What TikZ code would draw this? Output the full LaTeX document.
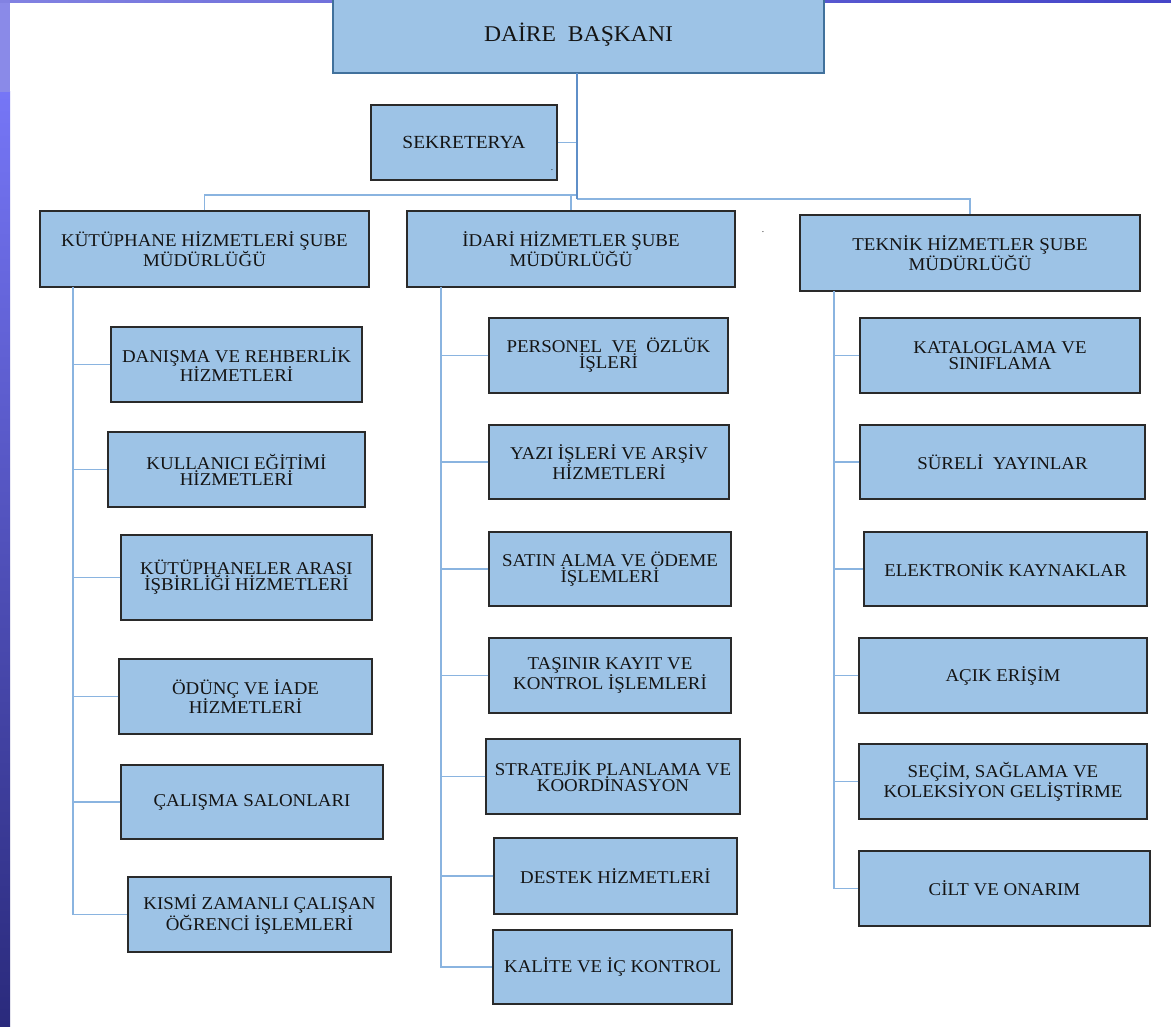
\documentclass[tikz,border=0pt]{standalone}
\usepackage{fontspec}
\setmainfont{Liberation Serif}[FakeStretch=1.05]
\usetikzlibrary{calc}
\definecolor{boxfill}{HTML}{9DC3E6}
\definecolor{boxline}{HTML}{2A2A2A}
\definecolor{topline}{HTML}{41719C}
\definecolor{conn}{HTML}{8AB4E0}
\definecolor{trunkc}{HTML}{5F8FC8}
\definecolor{txt}{HTML}{141414}
\definecolor{stripA}{HTML}{8A8AE8}
\definecolor{stripB}{HTML}{7676F6}
\definecolor{stripC}{HTML}{2A2A7C}
\definecolor{topA}{HTML}{8282E2}
\definecolor{topB}{HTML}{4545C8}
\tikzset{
  orgbox/.style={draw=boxline, line width=1.5pt, fill=boxfill, inner sep=0pt,
    align=center, text=txt, font={\fontsize{18}{16}\selectfont}},
  headbox/.style={orgbox, draw=topline, font={\fontsize{22.5}{18}\selectfont}},
  link/.style={draw=conn, line width=1.7pt},
  trunk/.style={draw=trunkc, line width=2pt},
  dotlabel/.style={inner sep=0pt, text=txt, font=\small}
}
\newcommand{\obox}[6]{% name, cx, cy, w, h, text
  \node[orgbox, minimum width=#4pt, minimum height=#5pt] (#1) at (#2,#3) {#6};}
\begin{document}
\begin{tikzpicture}[x=1pt,y=-1pt]
\useasboundingbox (0,0) rectangle (1171,1027);
\fill[white] (0,0) rectangle (1171,1027);
% left strip and top strip
\shade[top color=stripB, bottom color=stripC] (0,92) rectangle (10,1027);
\fill[stripA] (0,0) rectangle (10,92);
\shade[left color=topA, right color=topB] (0,0) rectangle (1171,3);

% top level
\node[headbox, minimum width=491pt, minimum height=76pt] (dk) at (578.5,35) {DAİRE\ \ BAŞKANI};
\node[orgbox, minimum width=186pt, minimum height=75pt, font={\fontsize{18.5}{16}\selectfont}] (sek) at (464,142.5) {SEKRETERYA};
\node[dotlabel] (sekdot) at (552,170) {.};

% branches
\obox{kut}{204.5}{249}{329}{76}{KÜTÜPHANE HİZMETLERİ ŞUBE\\MÜDÜRLÜĞÜ}
\obox{ida}{571}{249}{328}{76}{İDARİ HİZMETLER ŞUBE\\MÜDÜRLÜĞÜ}
\obox{tek}{970}{253}{340}{76}{TEKNİK HİZMETLER ŞUBE\\MÜDÜRLÜĞÜ}
\node[dotlabel] (middot) at (763,232) {.};

% left column
\obox{k1}{236.5}{364.5}{251}{75}{DANIŞMA VE REHBERLİK\\HİZMETLERİ}
\obox{k2}{236.5}{469.5}{257}{75}{KULLANICI EĞİTİMİ\\HİZMETLERİ}
\obox{k3}{246.5}{577.5}{251}{85}{KÜTÜPHANELER ARASI\\İŞBİRLİĞİ HİZMETLERİ}
\obox{k4}{245.5}{696.5}{253}{75}{ÖDÜNÇ VE İADE\\HİZMETLERİ}
\obox{k5}{252}{802}{262}{74}{ÇALIŞMA SALONLARI}
\obox{k6}{259.5}{914.5}{263}{75}{KISMİ ZAMANLI ÇALIŞAN\\ÖĞRENCİ İŞLEMLERİ}

% middle column
\obox{i1}{608.5}{355.5}{239}{75}{PERSONEL\ \ VE\ \ ÖZLÜK\\İŞLERİ}
\obox{i2}{609}{462}{240}{74}{YAZI İŞLERİ VE ARŞİV\\HİZMETLERİ}
\obox{i3}{610}{569}{242}{74}{SATIN ALMA VE ÖDEME\\İŞLEMLERİ}
\obox{i4}{610}{675.5}{242}{75}{TAŞINIR KAYIT VE\\KONTROL İŞLEMLERİ}
\obox{i5}{613}{776.5}{254}{75}{STRATEJİK PLANLAMA VE\\KOORDİNASYON}
\obox{i6}{615.5}{876}{243}{76}{DESTEK HİZMETLERİ}
\obox{i7}{612.5}{967}{239}{74}{KALİTE VE İÇ KONTROL}

% right column
\obox{t1}{1000}{355.5}{280}{75}{KATALOGLAMA VE\\SINIFLAMA}
\obox{t2}{1002.5}{462}{285}{74}{SÜRELİ\ \ YAYINLAR}
\obox{t3}{1005.5}{569}{283}{74}{ELEKTRONİK KAYNAKLAR}
\obox{t4}{1003}{675.5}{288}{75}{AÇIK ERİŞİM}
\obox{t5}{1003}{781.5}{288}{75}{SEÇİM, SAĞLAMA VE\\KOLEKSİYON GELİŞTİRME}
\obox{t6}{1004.5}{888.5}{291}{75}{CİLT VE ONARIM}

% connector anchor coordinates
\coordinate (dkb) at (577,73);
\coordinate (jl) at (577,195);
\coordinate (jr) at (577,199);
\coordinate (kt) at (73,287);
\coordinate (it) at (441,287);
\coordinate (tt) at (834,291);

% upper connectors
\draw[link] (kut.north) |- (jl);
\draw[link] (ida.north) -- (ida.north |- jl);
\draw[link] (jr) -| (tek.north);
\draw[link] (sek.east) -- (sek.east -| dkb);
\draw[trunk] (dkb) -- (jr);

% column trunks
\draw[link] (kt) |- (k6.west);
\foreach \c in {k1,k2,k3,k4,k5} \draw[link] (\c.west) -- (\c.west -| kt);
\draw[link] (it) |- (i7.west);
\foreach \c in {i1,i2,i3,i4,i5,i6} \draw[link] (\c.west) -- (\c.west -| it);
\draw[link] (tt) |- (t6.west);
\foreach \c in {t1,t2,t3,t4,t5} \draw[link] (\c.west) -- (\c.west -| tt);
\end{tikzpicture}
\end{document}
